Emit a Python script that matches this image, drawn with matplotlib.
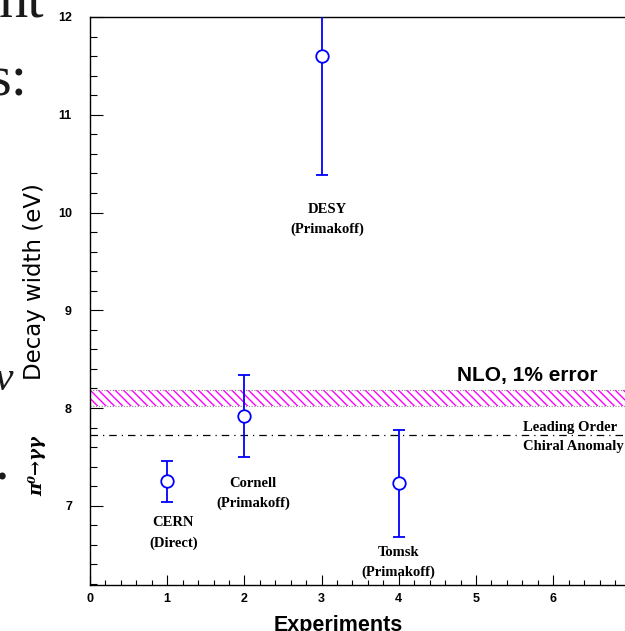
import numpy as np
import matplotlib
matplotlib.use('Agg')
import matplotlib.pyplot as plt
from matplotlib.ticker import MultipleLocator

# measurements (eV)
experiments = ['CERN', 'Cornell', 'DESY', 'Tomsk']
methods = ['(Direct)', '(Primakoff)', '(Primakoff)', '(Primakoff)']
exp_x = [1, 2, 3, 4]
width = [7.25, 7.92, 11.6, 7.23]
width_err = [0.21, 0.42, 1.22, 0.55]

# theory
nlo_center = 8.10
nlo_err = 0.08
lo_width = 7.725

# where the experiment names sit (data coords)
label_x = [1.08, 2.11, 3.08, 4.0]
label_y = [6.79, 7.19, 10.0, 6.49]

plt.rcParams['hatch.linewidth'] = 1.0

fig = plt.figure(figsize=(6.25, 6.31), dpi=100)
ax = fig.add_axes([90 / 625, 46 / 631, 535 / 625, 568 / 631])
ax.set_xlim(0, 6.93)
ax.set_ylim(6.19, 12.0)

# NLO band
ax.fill_between([0, 7], nlo_center - nlo_err, nlo_center + nlo_err,
                facecolor='white', edgecolor='#ff00ff', hatch='\\\\\\\\', lw=0)
for yb in (nlo_center - nlo_err, nlo_center + nlo_err):
    ax.axhline(yb, color='#888888', lw=0.8, ls=(0, (1, 1.5)))

# leading order line
ax.axhline(lo_width, color='black', lw=0.9, ls=(0, (6, 4, 1, 4)))

# data points
ax.errorbar(exp_x, width, yerr=width_err, fmt='o', color='#0000ff',
            mfc='white', mec='#0000ff', ms=9, mew=1.3, elinewidth=1.3,
            capsize=4.5, capthick=1.3, zorder=5)

serif = ['Liberation Serif', 'DejaVu Serif']
for name, meth, lx, ly in zip(experiments, methods, label_x, label_y):
    ax.text(lx, ly, name, ha='center', va='baseline', fontsize=10.5,
            fontweight='bold', family=serif)
    ax.text(lx, ly - 0.205, meth, ha='center', va='baseline', fontsize=10.5,
            fontweight='bold', family=serif)

ax.text(4.75, 8.28, 'NLO, 1% error', fontsize=15, fontweight='bold',
        family='Liberation Sans', va='baseline')
ax.text(5.61, 7.765, 'Leading Order', fontsize=10.5, fontweight='bold',
        family=serif, va='baseline', clip_on=False)
ax.text(5.61, 7.57, 'Chiral Anomaly', fontsize=10.5, fontweight='bold',
        family=serif, va='baseline', clip_on=False)

# axes styling (ROOT-like)
ax.spines['right'].set_visible(False)
for s in ('left', 'bottom', 'top'):
    ax.spines[s].set_linewidth(1.0)
ax.xaxis.set_major_locator(MultipleLocator(1))
ax.xaxis.set_minor_locator(MultipleLocator(0.2))
ax.yaxis.set_major_locator(MultipleLocator(1))
ax.yaxis.set_minor_locator(MultipleLocator(0.2))
ax.tick_params(which='both', direction='in', top=False, right=False, width=0.8)
ax.tick_params(axis='y', which='major', length=9, pad=13)
ax.tick_params(axis='y', which='minor', length=5)
ax.tick_params(axis='x', which='major', length=7, pad=6)
ax.tick_params(axis='x', which='minor', length=3.5)
for lab in ax.get_xticklabels() + ax.get_yticklabels():
    lab.set_fontweight('heavy')
    lab.set_fontfamily('Liberation Sans')
    lab.set_fontsize(9)

fig.text(338 / 625, 0.0, 'Experiments', ha='center', va='baseline',
         fontsize=15.5, fontweight='bold', family='Liberation Sans')

# y label in two pieces
fig.text(35 / 625, 1 - 282 / 631, 'Decay width (eV)', rotation=90,
         ha='center', va='center', fontsize=16.5, family='DejaVu Sans')
fig.text(37 / 625, 1 - 466 / 631, 'π⁰→γγ', rotation=90, ha='center',
         va='center', fontsize=13, fontweight='bold', style='italic',
         family='DejaVu Serif')

# leftover slide text at the left edge
slide_kw = dict(family=serif, fontsize=42, color='#1a1a1a', ha='right',
                va='baseline')
fig.text(44 / 625, 1 - 17 / 631, 'nt', **slide_kw)
fig.text(28 / 625, 1 - 95 / 631, 's:', **slide_kw)
fig.text(13 / 625, 1 - 390 / 631, 'v', style='italic',
         **{**slide_kw, 'fontsize': 30})
fig.text(9 / 625, 1 - 480 / 631, '.', **slide_kw)

fig.savefig('out.png', dpi=100)
